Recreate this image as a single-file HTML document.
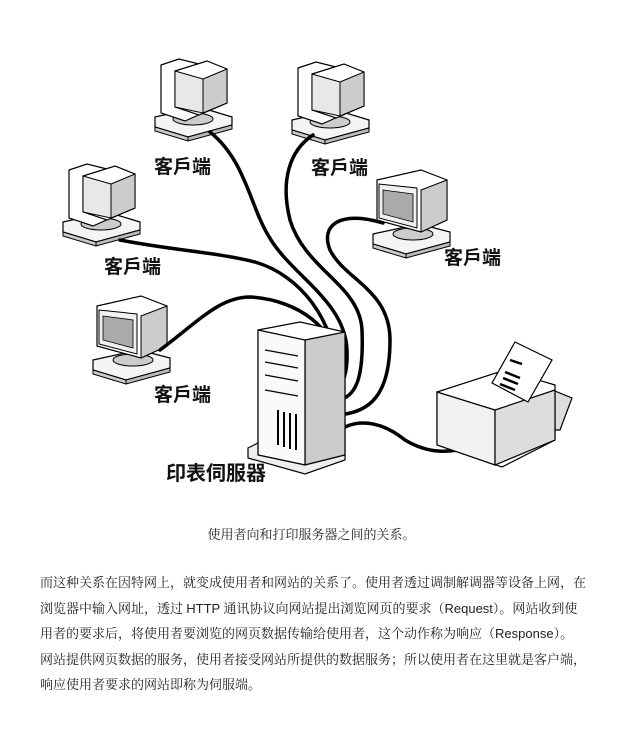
<!DOCTYPE html>
<html><head><meta charset="utf-8"><style>
body{margin:0;background:#fff;width:623px;height:730px;overflow:hidden;position:relative;font-family:"Liberation Serif","Noto Serif CJK SC",serif;}
.cap{position:absolute;top:524px;left:0;width:623px;text-align:center;font-size:13px;color:#222;}
.p{position:absolute;left:40px;top:570px;width:580px;font-size:13px;line-height:25.6px;color:#222;white-space:nowrap;}
.p span{font-family:"Liberation Sans",sans-serif;}
</style></head><body>
<svg width="623" height="500" style="position:absolute;left:0;top:0">
<defs>
<g id="crt">
 <polygon points="0,62 44,52 77,62 77,70 33,82 0,72" fill="#f4f4f4" stroke="#000" stroke-width="1.2"/>
 <polygon points="0,72 33,82 33,86 0,76" fill="#ccc" stroke="#000" stroke-width="1"/>
 <polygon points="33,82 77,70 77,74 33,86" fill="#bbb" stroke="#000" stroke-width="1"/>
 <ellipse cx="38" cy="64" rx="20" ry="6" fill="#ccc" stroke="#000"/>
 <polygon points="6,10 24,4 48,10 48,58 30,66 6,58" fill="#fff" stroke="#000" stroke-width="1.2"/>
 <polygon points="20,16 52,6 72,14 72,48 44,60 20,52" fill="#fff" stroke="#000" stroke-width="1.2"/>
 <polygon points="48,24 72,14 72,48 48,58" fill="#ccc" stroke="#000" stroke-width="1"/>
 <polygon points="20,16 48,24 48,58 20,52" fill="#e8e8e8" stroke="#000" stroke-width="1"/>
</g>
<g id="mon">
 <polygon points="0,68 46,58 77,66 77,76 33,88 0,78" fill="#f4f4f4" stroke="#000" stroke-width="1.2"/>
 <polygon points="0,78 33,88 33,92 0,82" fill="#ccc" stroke="#000"/>
 <polygon points="33,88 77,76 77,80 33,92" fill="#bbb" stroke="#000"/>
 <ellipse cx="40" cy="68" rx="20" ry="6" fill="#ccc" stroke="#000"/>
 <polygon points="4,14 48,4 74,14 74,54 48,66 4,54" fill="#fff" stroke="#000" stroke-width="1.2"/>
 <polygon points="48,24 74,14 74,54 48,66" fill="#ccc" stroke="#000"/>
 <polygon points="6,18 44,22 44,62 6,52" fill="#f0f0f0" stroke="#000"/>
 <polygon points="10,24 40,28 40,56 10,48" fill="#aaa" stroke="#000" stroke-width=".8"/>
</g>
</defs>
<use href="#crt" x="155" y="55"/>
<use href="#crt" x="292" y="58"/>
<use href="#crt" x="63" y="160"/>
<use href="#mon" x="373" y="166"/>
<use href="#mon" x="93" y="292"/>
<g fill="none" stroke="#000" stroke-width="3.5" stroke-linecap="round">
<path d="M160,350 C200,320 220,297 250,297 C300,300 335,330 337,363"/>
<path d="M120,240 C170,250 215,252 255,262 C300,275 335,320 337,375"/>
<path d="M210,132 C245,160 250,205 268,235 C290,275 345,300 347,350 C348,375 342,385 337,387"/>
<path d="M313,135 C290,150 280,180 290,220 C305,270 360,285 362,330 C364,380 355,398 337,400"/>
<path d="M383,223 C340,210 320,225 330,250 C345,280 390,290 390,340 C390,395 370,413 337,415"/>
<path d="M337,432 C355,418 380,420 405,440 C430,455 450,452 470,448"/>
</g>
<g stroke="#000" stroke-width="1.2">
 <polygon points="258,330 300,322 345,332 345,455 305,465 258,455" fill="#fff"/>
 <polygon points="305,340 345,332 345,455 305,465" fill="#ccc"/>
 <polygon points="258,330 305,340 305,465 258,455" fill="#fafafa"/>
 <polygon points="248,448 258,443 258,455 305,465 345,455 345,460 305,474 248,458" fill="#eee"/>
 <line x1="265" y1="350" x2="298" y2="356"/><line x1="265" y1="362" x2="298" y2="368"/>
 <line x1="265" y1="375" x2="298" y2="381"/><line x1="265" y1="390" x2="298" y2="396"/>
 <line x1="278" y1="410" x2="278" y2="445" stroke-width="2"/><line x1="284" y1="412" x2="284" y2="447" stroke-width="2"/>
 <line x1="290" y1="413" x2="290" y2="449" stroke-width="2"/><line x1="296" y1="414" x2="296" y2="450" stroke-width="2"/>
</g>
<g stroke="#000" stroke-width="1.2">
 <polygon points="540,385 572,398 560,430 540,430" fill="#ddd"/>
 <polygon points="437,392 505,370 555,385 555,440 502,467 437,445" fill="#fff"/>
 <polygon points="437,392 495,410 495,465 437,445" fill="#f2f2f2"/>
 <polygon points="495,410 555,390 555,440 495,465" fill="#ddd"/>
 <polygon points="492,383 515,342 552,360 528,402" fill="#fff"/>
 <line x1="510" y1="360" x2="522" y2="364" stroke-width="2.5"/>
 <line x1="505" y1="372" x2="520" y2="378" stroke-width="2.5"/>
 <line x1="503" y1="378" x2="518" y2="384" stroke-width="2.5"/>
 <line x1="500" y1="384" x2="515" y2="390" stroke-width="2.5"/>
</g>
<g font-family="'Liberation Sans','Noto Sans CJK TC',sans-serif" font-size="19" font-weight="bold" fill="#111">
<text x="154" y="173">客戶端</text>
<text x="311" y="174">客戶端</text>
<text x="104" y="273">客戶端</text>
<text x="444" y="264">客戶端</text>
<text x="154" y="401">客戶端</text>
<text x="166" y="480" font-size="20">印表伺服器</text>
</g>
</svg>
<div class="cap">使用者向和打印服务器之间的关系。</div>
<div class="p">而这种关系在因特网上，就变成使用者和网站的关系了。使用者透过调制解调器等设备上网，在<br>浏览器中输入网址，透过 <span>HTTP</span> 通讯协议向网站提出浏览网页的要求（<span>Request</span>）。网站收到使<br>用者的要求后，将使用者要浏览的网页数据传输给使用者，这个动作称为响应（<span>Response</span>）。<br>网站提供网页数据的服务，使用者接受网站所提供的数据服务；所以使用者在这里就是客户端，<br>响应使用者要求的网站即称为伺服端。</div>
</body></html>
